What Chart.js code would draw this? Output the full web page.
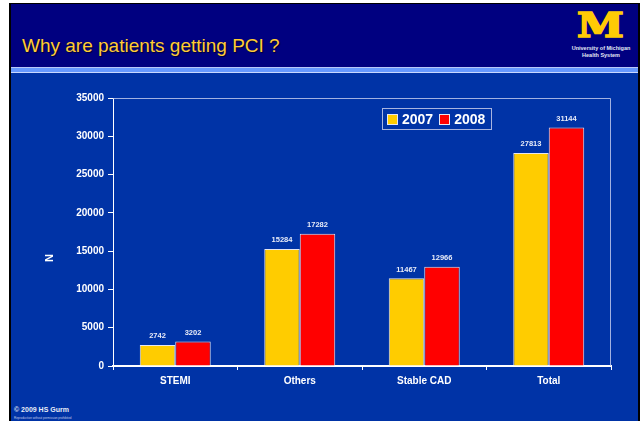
<!DOCTYPE html>
<html>
<head>
<meta charset="utf-8">
<script src="https://cdn.jsdelivr.net/npm/chart.js@4.4.0/dist/chart.umd.min.js"></script>
<style>
  body { margin: 0; width: 643px; height: 421px; background: #fff; position: relative; overflow: hidden; font-family: "Liberation Sans", Arial, sans-serif; }
  .abs { position: absolute; }
  #frame { left: 9px; top: 3px; width: 631px; height: 418px; box-sizing: border-box; border-left: 2px solid #000; border-right: 2px solid #000; border-top: 1px solid #000; background: #0033A6; }
  #titlebar { left: 11px; top: 4px; width: 627px; height: 63px; background: #000080; }
  #title { left: 22px; top: 36px; font-size: 19px; line-height: 19px; color: #FFCC33; text-shadow: 1px 1px 1px #000033; white-space: nowrap; }
  #logoM { left: 577px; top: 9px; font-family: "DejaVu Serif", serif; font-weight: bold; font-size: 33px; line-height: 33px; color: #FFCB05; -webkit-text-stroke: 1.6px #FFCB05; transform: scaleX(1.28); transform-origin: left top; }
  .logoTxt { width: 80px; left: 561px; text-align: center; font-size: 5.5px; line-height: 6px; font-weight: bold; color: #E4E8F4; white-space: nowrap; }
  #chartCanvas { left: 0; top: 0; }
  #legend { left: 382px; top: 108px; width: 110px; height: 22px; box-sizing: border-box; border: 1px solid #A8B4E0; display: flex; align-items: center; padding-left: 4px; }
  .item { display: flex; align-items: center; margin-right: 6px; color: #fff; font-weight: bold; font-size: 14px; }
  .swatch { width: 9px; height: 9px; border: 1px solid #E6E6F0; margin-right: 4px; }
  #yTitle { left: 42px; top: 252px; width: 14px; text-align: center; font-size: 11px; line-height: 12px; font-weight: bold; color: #fff; transform: rotate(-90deg); }
  #footer { left: 14px; top: 406px; font-size: 7px; font-weight: bold; color: #E8ECF6; white-space: nowrap; }
  #footer2 { left: 14px; top: 416px; font-size: 3px; color: #C0C8E8; white-space: nowrap; }
</style>
</head>
<body>
<div id="frame" class="abs"></div>
<div id="titlebar" class="abs"></div>
<div class="abs" style="left:11px;top:67px;width:627px;height:1px;background:#B8C8F8"></div>
<div class="abs" style="left:11px;top:68px;width:627px;height:4px;background:#6699FF"></div>
<div class="abs" style="left:11px;top:72px;width:627px;height:1px;background:#C8D8FF"></div>
<div id="title" class="abs">Why are patients getting PCI ?</div>
<div id="logoM" class="abs">M</div>
<div class="abs logoTxt" style="top:45px">University of Michigan</div>
<div class="abs logoTxt" style="top:52px">Health System</div>
<div id="footer" class="abs">© 2009 HS Gurm</div>
<div id="footer2" class="abs">Reproduction without permission prohibited</div>
<canvas id="chartCanvas" class="abs" width="643" height="421"></canvas>
<div id="legend" class="abs"></div>
<div id="yTitle" class="abs"></div>

<script>
// Chart data
const categories = ['STEMI', 'Others', 'Stable CAD', 'Total'];
const seriesLabels = ['2007', '2008'];
const values2007 = [2742, 15284, 11467, 27813];
const values2008 = [3202, 17282, 12966, 31144];
const seriesColors = ['#FFCC00', '#FF0000'];
const yMin = 0;
const yMax = 35000;
const yStep = 5000;
const yTitle = 'N';

const fontFamily = '"Liberation Sans", Arial, sans-serif';

document.getElementById('yTitle').textContent = yTitle;

// Legend (HTML, sits inside the plot area)
const legendEl = document.getElementById('legend');
seriesLabels.forEach((label, i) => {
    const item = document.createElement('div');
    item.className = 'item';
    item.innerHTML = `<span class="swatch" style="background:${seriesColors[i]}"></span>${label}`;
    legendEl.appendChild(item);
});

// Frame on top and right of the plot area
const frameLines = {
    id: 'frameLines',
    beforeDatasetsDraw(chart) {
        const { ctx, chartArea: a } = chart;
        ctx.save();
        ctx.strokeStyle = 'rgba(190, 200, 235, 0.85)';
        ctx.lineWidth = 1;
        ctx.beginPath();
        ctx.moveTo(a.left, a.top + 0.5);
        ctx.lineTo(a.right - 0.5, a.top + 0.5);
        ctx.lineTo(a.right - 0.5, a.bottom);
        ctx.stroke();
        ctx.restore();
    }
};

// Value labels above each bar
const valueLabels = {
    id: 'valueLabels',
    afterDatasetsDraw(chart) {
        const { ctx } = chart;
        ctx.save();
        ctx.fillStyle = '#E8ECF8';
        ctx.font = 'bold 7.5px ' + fontFamily;
        ctx.textAlign = 'center';
        ctx.textBaseline = 'bottom';
        chart.data.datasets.forEach((ds, i) => {
            chart.getDatasetMeta(i).data.forEach((bar, j) => {
                ctx.fillText(String(ds.data[j]), bar.x, bar.y - 5);
            });
        });
        ctx.restore();
    }
};

new Chart(document.getElementById('chartCanvas'), {
    type: 'bar',
    data: {
        labels: categories,
        datasets: [
            { label: seriesLabels[0], data: values2007, backgroundColor: seriesColors[0], borderColor: '#E6E6F0', borderWidth: 1 },
            { label: seriesLabels[1], data: values2008, backgroundColor: seriesColors[1], borderColor: '#E6E6F0', borderWidth: 1 }
        ]
    },
    options: {
        responsive: false,
        animation: false,
        devicePixelRatio: 1,
        categoryPercentage: 0.57,
        barPercentage: 1.0,
        layout: { padding: { left: 38, right: 32, top: 98, bottom: 0 } },
        plugins: {
            legend: { display: false },
            tooltip: { enabled: false }
        },
        scales: {
            x: {
                grid: { drawOnChartArea: false, color: '#FFFFFF', tickLength: 4, offset: true },
                border: { color: '#FFFFFF', width: 2 },
                ticks: { color: '#FFFFFF', font: { family: fontFamily, size: 10, weight: 'bold' }, padding: 5 },
                afterFit(scale) { scale.height = 55; }
            },
            y: {
                min: yMin,
                max: yMax,
                grid: { drawOnChartArea: false, color: '#FFFFFF', tickLength: 5 },
                border: { color: '#FFFFFF', width: 1 },
                ticks: {
                    stepSize: yStep,
                    color: '#FFFFFF',
                    font: { family: fontFamily, size: 10, weight: 'bold' },
                    padding: 4,
                    callback: value => String(value)
                },
                afterFit(scale) { scale.width = 75; }
            }
        }
    },
    plugins: [frameLines, valueLabels]
});
</script>
</body>
</html>
